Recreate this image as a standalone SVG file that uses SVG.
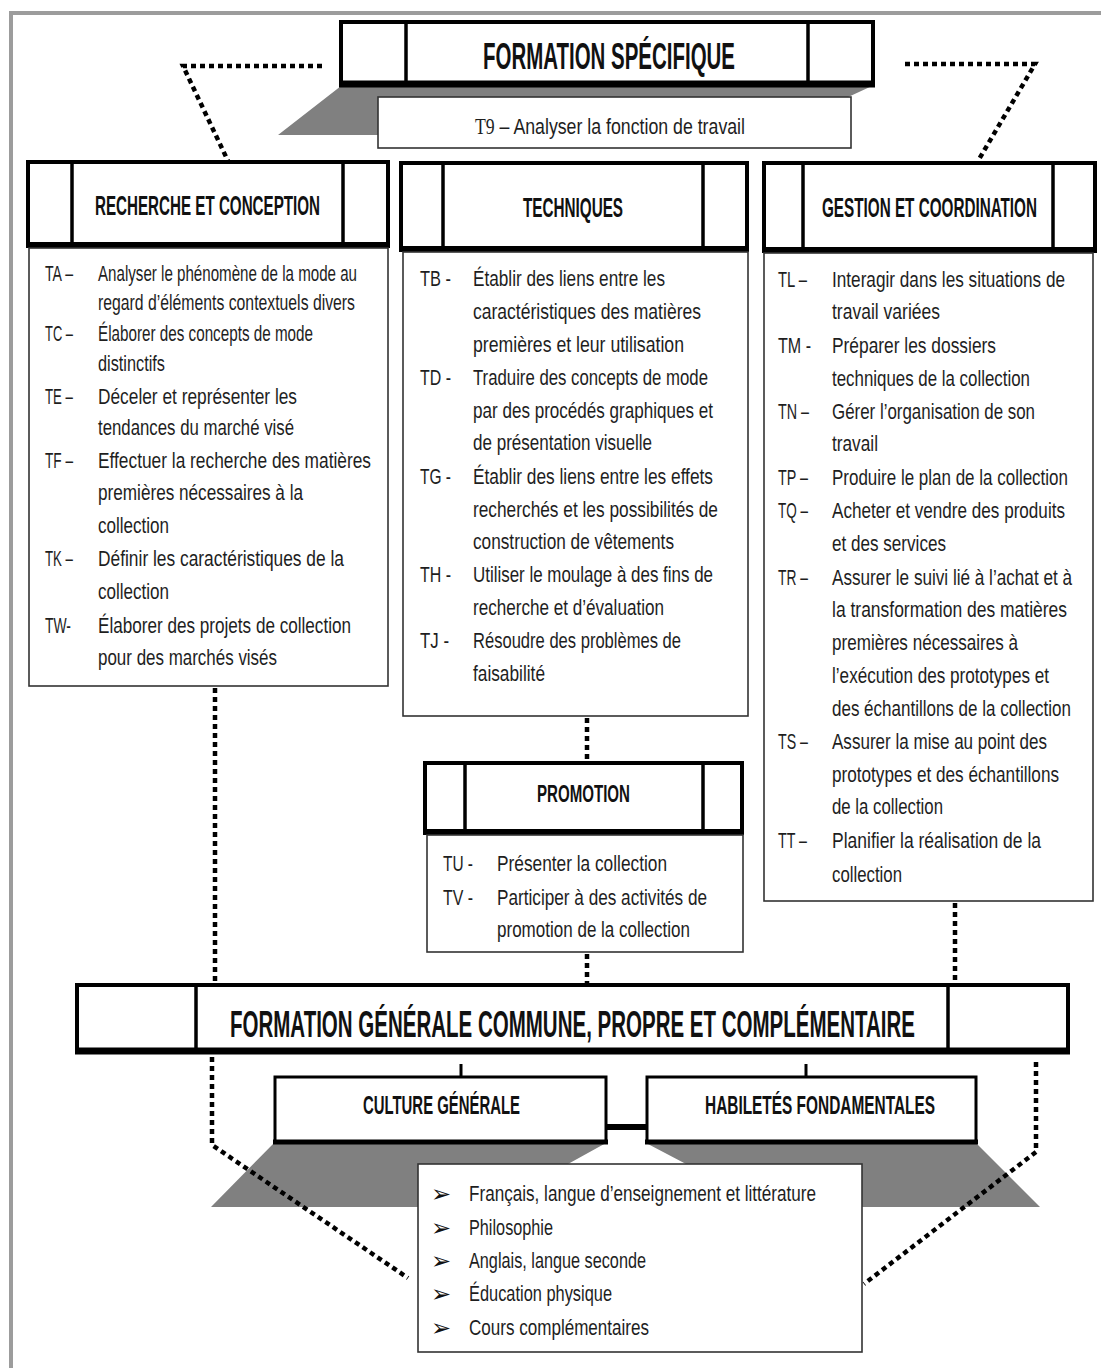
<svg xmlns="http://www.w3.org/2000/svg" width="1101" height="1371" viewBox="0 0 1101 1371">
  <style>
    .hdr { font-family: "Liberation Sans", Arial, sans-serif; font-weight: bold; fill: #111; }
    .body { font-family: "Liberation Sans", Arial, sans-serif; font-size: 17.6px; fill: #1e1e1e; }
    .list { font-family: "Liberation Sans", Arial, sans-serif; font-size: 17px; fill: #1e1e1e; }
    .bullet { font-family: "DejaVu Sans", sans-serif; font-size: 24px; fill: #111; }
    .outer { fill: #fff; stroke: #000; stroke-width: 4; }
    .rule { stroke: #000; stroke-width: 6; }
    .div { stroke: #000; stroke-width: 3.5; }
    .content { fill: #fff; stroke: #333; stroke-width: 1.6; }
    .dot { fill: none; stroke: #000; stroke-width: 4.5; stroke-dasharray: 5 4; }
    .solid { fill: none; stroke: #000; stroke-width: 3; }
    .shadow { fill: #808080; }
  </style>

  <!-- page frame -->
  <polyline points="11,1368 11,13 1101,13" fill="none" stroke="#9c9c9c" stroke-width="4"/>

  <!-- gray drop shapes -->
  <polygon class="shadow" points="341,86 872,86 846,98 846,135 278,135"/>
  <polygon class="shadow" points="274,1143 606,1143 568,1164 568,1207 211,1207"/>
  <polygon class="shadow" points="646,1143 976,1143 1040,1207 686,1207 686,1164"/>

  <!-- connectors -->
  <g id="connectors">
    <polyline class="dot" points="322,66 183,66 228,161"/>
    <polyline class="dot" points="905,64 1035,64 978,161"/>
    <line class="dot" x1="215" y1="688" x2="215" y2="984"/>
    <line class="dot" x1="587" y1="718" x2="587" y2="762"/>
    <line class="dot" x1="587" y1="954" x2="587" y2="984"/>
    <line class="dot" x1="955" y1="903" x2="955" y2="984"/>
    <polyline class="dot" points="212,1057 212,1145 408,1278"/>
    <polyline class="dot" points="1036,1062 1036,1152 864,1284"/>
    <line class="solid" x1="461" y1="1064" x2="461" y2="1077"/>
    <line class="solid" x1="806" y1="1064" x2="806" y2="1077"/>
    <line x1="605" y1="1127" x2="648" y2="1127" stroke="#000" stroke-width="6"/>
  </g>

  <!-- FORMATION SPÉCIFIQUE -->
  <g id="formation-specifique">
    <rect class="outer" x="341" y="22" width="532" height="62" stroke-width="5"/>
    <line x1="339" y1="84" x2="875" y2="84" stroke="#000" stroke-width="7"/>
    <line class="div" x1="406" y1="22" x2="406" y2="84"/>
    <line class="div" x1="808" y1="22" x2="808" y2="84"/>
    <text class="hdr" transform="translate(483 69) scale(1 1.8)" font-size="20.5" textLength="252" lengthAdjust="spacingAndGlyphs">FORMATION SPÉCIFIQUE</text>
  </g>

  <g id="t9">
    <rect class="content" x="378" y="97" width="473" height="51"/>
    <text class="body" transform="translate(475 134) scale(1 1.3)" font-size="17" textLength="270" lengthAdjust="spacingAndGlyphs"><tspan font-family="Liberation Serif, serif">T9</tspan> – Analyser la fonction de travail</text>
  </g>

  <!-- RECHERCHE ET CONCEPTION -->
  <g id="recherche-conception">
    <rect class="outer" x="28" y="162" width="360" height="83"/>
    <line class="rule" x1="26" y1="245" x2="390" y2="245"/>
    <line class="div" x1="72" y1="162" x2="72" y2="245"/>
    <line class="div" x1="343" y1="162" x2="343" y2="245"/>
    <text class="hdr" transform="translate(95 215) scale(1 1.8)" font-size="15" textLength="225" lengthAdjust="spacingAndGlyphs">RECHERCHE ET CONCEPTION</text>
    <rect class="content" x="29" y="248" width="359" height="438"/>
    <g class="body">
      <text transform="translate(45 281) scale(1 1.3)" textLength="28" lengthAdjust="spacingAndGlyphs">TA –</text>
      <text transform="translate(98 281) scale(1 1.3)" textLength="259" lengthAdjust="spacingAndGlyphs">Analyser le phénomène de la mode au</text>
      <text transform="translate(98 310) scale(1 1.3)" textLength="257" lengthAdjust="spacingAndGlyphs">regard d’éléments contextuels divers</text>
      <text transform="translate(45 341) scale(1 1.3)" textLength="28" lengthAdjust="spacingAndGlyphs">TC –</text>
      <text transform="translate(98 341) scale(1 1.3)" textLength="215" lengthAdjust="spacingAndGlyphs">Élaborer des concepts de mode</text>
      <text transform="translate(98 371) scale(1 1.3)" textLength="67" lengthAdjust="spacingAndGlyphs">distinctifs</text>
      <text transform="translate(45 404) scale(1 1.3)" textLength="28" lengthAdjust="spacingAndGlyphs">TE –</text>
      <text transform="translate(98 404) scale(1 1.3)" textLength="199" lengthAdjust="spacingAndGlyphs">Déceler et représenter les</text>
      <text transform="translate(98 435) scale(1 1.3)" textLength="196" lengthAdjust="spacingAndGlyphs">tendances du marché visé</text>
      <text transform="translate(45 468) scale(1 1.3)" textLength="28" lengthAdjust="spacingAndGlyphs">TF –</text>
      <text transform="translate(98 468) scale(1 1.3)" textLength="273" lengthAdjust="spacingAndGlyphs">Effectuer la recherche des matières</text>
      <text transform="translate(98 500) scale(1 1.3)" textLength="205" lengthAdjust="spacingAndGlyphs">premières nécessaires à la</text>
      <text transform="translate(98 533) scale(1 1.3)" textLength="71" lengthAdjust="spacingAndGlyphs">collection</text>
      <text transform="translate(45 566) scale(1 1.3)" textLength="28" lengthAdjust="spacingAndGlyphs">TK –</text>
      <text transform="translate(98 566) scale(1 1.3)" textLength="246" lengthAdjust="spacingAndGlyphs">Définir les caractéristiques de la</text>
      <text transform="translate(98 599) scale(1 1.3)" textLength="71" lengthAdjust="spacingAndGlyphs">collection</text>
      <text transform="translate(45 633) scale(1 1.3)" textLength="26" lengthAdjust="spacingAndGlyphs">TW-</text>
      <text transform="translate(98 633) scale(1 1.3)" textLength="253" lengthAdjust="spacingAndGlyphs">Élaborer des projets de collection</text>
      <text transform="translate(98 665) scale(1 1.3)" textLength="179" lengthAdjust="spacingAndGlyphs">pour des marchés visés</text>
    </g>
  </g>

  <!-- TECHNIQUES -->
  <g id="techniques">
    <rect class="outer" x="401" y="163" width="346" height="86"/>
    <line class="rule" x1="399" y1="249" x2="749" y2="249"/>
    <line class="div" x1="443" y1="163" x2="443" y2="249"/>
    <line class="div" x1="703" y1="163" x2="703" y2="249"/>
    <text class="hdr" transform="translate(523 217) scale(1 1.8)" font-size="15" textLength="100" lengthAdjust="spacingAndGlyphs">TECHNIQUES</text>
    <rect class="content" x="403" y="252" width="345" height="464"/>
    <g class="body">
      <text transform="translate(420 286) scale(1 1.3)" textLength="31" lengthAdjust="spacingAndGlyphs">TB -</text>
      <text transform="translate(473 286) scale(1 1.3)" textLength="192" lengthAdjust="spacingAndGlyphs">Établir des liens entre les</text>
      <text transform="translate(473 319) scale(1 1.3)" textLength="228" lengthAdjust="spacingAndGlyphs">caractéristiques des matières</text>
      <text transform="translate(473 352) scale(1 1.3)" textLength="211" lengthAdjust="spacingAndGlyphs">premières et leur utilisation</text>
      <text transform="translate(420 385) scale(1 1.3)" textLength="31" lengthAdjust="spacingAndGlyphs">TD -</text>
      <text transform="translate(473 385) scale(1 1.3)" textLength="235" lengthAdjust="spacingAndGlyphs">Traduire des concepts de mode</text>
      <text transform="translate(473 418) scale(1 1.3)" textLength="240" lengthAdjust="spacingAndGlyphs">par des procédés graphiques et</text>
      <text transform="translate(473 450) scale(1 1.3)" textLength="179" lengthAdjust="spacingAndGlyphs">de présentation visuelle</text>
      <text transform="translate(420 484) scale(1 1.3)" textLength="31" lengthAdjust="spacingAndGlyphs">TG -</text>
      <text transform="translate(473 484) scale(1 1.3)" textLength="240" lengthAdjust="spacingAndGlyphs">Établir des liens entre les effets</text>
      <text transform="translate(473 517) scale(1 1.3)" textLength="245" lengthAdjust="spacingAndGlyphs">recherchés et les possibilités de</text>
      <text transform="translate(473 549) scale(1 1.3)" textLength="201" lengthAdjust="spacingAndGlyphs">construction de vêtements</text>
      <text transform="translate(420 582) scale(1 1.3)" textLength="31" lengthAdjust="spacingAndGlyphs">TH -</text>
      <text transform="translate(473 582) scale(1 1.3)" textLength="240" lengthAdjust="spacingAndGlyphs">Utiliser le moulage à des fins de</text>
      <text transform="translate(473 615) scale(1 1.3)" textLength="191" lengthAdjust="spacingAndGlyphs">recherche et d’évaluation</text>
      <text transform="translate(420 648) scale(1 1.3)" textLength="29" lengthAdjust="spacingAndGlyphs">TJ -</text>
      <text transform="translate(473 648) scale(1 1.3)" textLength="208" lengthAdjust="spacingAndGlyphs">Résoudre des problèmes de</text>
      <text transform="translate(473 681) scale(1 1.3)" textLength="72" lengthAdjust="spacingAndGlyphs">faisabilité</text>
    </g>
  </g>

  <!-- GESTION ET COORDINATION -->
  <g id="gestion-coordination">
    <rect class="outer" x="764" y="163" width="331" height="87"/>
    <line class="rule" x1="762" y1="250" x2="1097" y2="250"/>
    <line class="div" x1="803" y1="163" x2="803" y2="250"/>
    <line class="div" x1="1053" y1="163" x2="1053" y2="250"/>
    <text class="hdr" transform="translate(822 217) scale(1 1.8)" font-size="15" textLength="215" lengthAdjust="spacingAndGlyphs">GESTION ET COORDINATION</text>
    <rect class="content" x="764" y="253" width="329" height="648"/>
    <g class="body">
      <text transform="translate(778 287) scale(1 1.3)" textLength="29" lengthAdjust="spacingAndGlyphs">TL –</text>
      <text transform="translate(832 287) scale(1 1.3)" textLength="233" lengthAdjust="spacingAndGlyphs">Interagir dans les situations de</text>
      <text transform="translate(832 319) scale(1 1.3)" textLength="108" lengthAdjust="spacingAndGlyphs">travail variées</text>
      <text transform="translate(778 353) scale(1 1.3)" textLength="33" lengthAdjust="spacingAndGlyphs">TM -</text>
      <text transform="translate(832 353) scale(1 1.3)" textLength="164" lengthAdjust="spacingAndGlyphs">Préparer les dossiers</text>
      <text transform="translate(832 386) scale(1 1.3)" textLength="198" lengthAdjust="spacingAndGlyphs">techniques de la collection</text>
      <text transform="translate(778 419) scale(1 1.3)" textLength="31" lengthAdjust="spacingAndGlyphs">TN –</text>
      <text transform="translate(832 419) scale(1 1.3)" textLength="203" lengthAdjust="spacingAndGlyphs">Gérer l’organisation de son</text>
      <text transform="translate(832 451) scale(1 1.3)" textLength="46" lengthAdjust="spacingAndGlyphs">travail</text>
      <text transform="translate(778 485) scale(1 1.3)" textLength="30" lengthAdjust="spacingAndGlyphs">TP –</text>
      <text transform="translate(832 485) scale(1 1.3)" textLength="236" lengthAdjust="spacingAndGlyphs">Produire le plan de la collection</text>
      <text transform="translate(778 518) scale(1 1.3)" textLength="30" lengthAdjust="spacingAndGlyphs">TQ –</text>
      <text transform="translate(832 518) scale(1 1.3)" textLength="233" lengthAdjust="spacingAndGlyphs">Acheter et vendre des produits</text>
      <text transform="translate(832 551) scale(1 1.3)" textLength="114" lengthAdjust="spacingAndGlyphs">et des services</text>
      <text transform="translate(778 585) scale(1 1.3)" textLength="30" lengthAdjust="spacingAndGlyphs">TR –</text>
      <text transform="translate(832 585) scale(1 1.3)" textLength="240" lengthAdjust="spacingAndGlyphs">Assurer le suivi lié à l’achat et à</text>
      <text transform="translate(832 617) scale(1 1.3)" textLength="235" lengthAdjust="spacingAndGlyphs">la transformation des matières</text>
      <text transform="translate(832 650) scale(1 1.3)" textLength="186" lengthAdjust="spacingAndGlyphs">premières nécessaires à</text>
      <text transform="translate(832 683) scale(1 1.3)" textLength="217" lengthAdjust="spacingAndGlyphs">l’exécution des prototypes et</text>
      <text transform="translate(832 716) scale(1 1.3)" textLength="239" lengthAdjust="spacingAndGlyphs">des échantillons de la collection</text>
      <text transform="translate(778 749) scale(1 1.3)" textLength="30" lengthAdjust="spacingAndGlyphs">TS –</text>
      <text transform="translate(832 749) scale(1 1.3)" textLength="215" lengthAdjust="spacingAndGlyphs">Assurer la mise au point des</text>
      <text transform="translate(832 782) scale(1 1.3)" textLength="227" lengthAdjust="spacingAndGlyphs">prototypes et des échantillons</text>
      <text transform="translate(832 814) scale(1 1.3)" textLength="111" lengthAdjust="spacingAndGlyphs">de la collection</text>
      <text transform="translate(778 848) scale(1 1.3)" textLength="29" lengthAdjust="spacingAndGlyphs">TT –</text>
      <text transform="translate(832 848) scale(1 1.3)" textLength="209" lengthAdjust="spacingAndGlyphs">Planifier la réalisation de la</text>
      <text transform="translate(832 882) scale(1 1.3)" textLength="70" lengthAdjust="spacingAndGlyphs">collection</text>
    </g>
  </g>

  <!-- PROMOTION -->
  <g id="promotion">
    <rect class="outer" x="425" y="763" width="317" height="69"/>
    <line class="rule" x1="423" y1="832" x2="744" y2="832"/>
    <line class="div" x1="465" y1="763" x2="465" y2="832"/>
    <line class="div" x1="703" y1="763" x2="703" y2="832"/>
    <text class="hdr" transform="translate(537 802) scale(1 1.8)" font-size="13.3" textLength="93" lengthAdjust="spacingAndGlyphs">PROMOTION</text>
    <rect class="content" x="427" y="835" width="316" height="117"/>
    <g class="body">
      <text transform="translate(443 871) scale(1 1.3)" textLength="30" lengthAdjust="spacingAndGlyphs">TU -</text>
      <text transform="translate(497 871) scale(1 1.3)" textLength="170" lengthAdjust="spacingAndGlyphs">Présenter la collection</text>
      <text transform="translate(443 905) scale(1 1.3)" textLength="30" lengthAdjust="spacingAndGlyphs">TV -</text>
      <text transform="translate(497 905) scale(1 1.3)" textLength="210" lengthAdjust="spacingAndGlyphs">Participer à des activités de</text>
      <text transform="translate(497 937) scale(1 1.3)" textLength="193" lengthAdjust="spacingAndGlyphs">promotion de la collection</text>
    </g>
  </g>

  <!-- FORMATION GÉNÉRALE -->
  <g id="formation-generale">
    <rect class="outer" x="77" y="985" width="991" height="66" stroke-width="5"/>
    <line x1="75" y1="1051" x2="1070" y2="1051" stroke="#000" stroke-width="7"/>
    <line class="div" x1="196" y1="985" x2="196" y2="1051"/>
    <line class="div" x1="948" y1="985" x2="948" y2="1051"/>
    <text class="hdr" transform="translate(230 1037) scale(1 1.8)" font-size="21" textLength="685" lengthAdjust="spacingAndGlyphs">FORMATION GÉNÉRALE COMMUNE, PROPRE ET COMPLÉMENTAIRE</text>
  </g>

  <g id="culture-generale">
    <rect x="275" y="1077" width="331" height="65" fill="#fff" stroke="#000" stroke-width="3"/>
    <line x1="273" y1="1142" x2="608" y2="1142" stroke="#000" stroke-width="5"/>
    <text class="hdr" transform="translate(363 1114) scale(1 1.8)" font-size="14.4" textLength="157" lengthAdjust="spacingAndGlyphs">CULTURE GÉNÉRALE</text>
  </g>

  <g id="habiletes-fondamentales">
    <rect x="647" y="1077" width="329" height="65" fill="#fff" stroke="#000" stroke-width="3"/>
    <line x1="645" y1="1142" x2="978" y2="1142" stroke="#000" stroke-width="5"/>
    <text class="hdr" transform="translate(705 1114) scale(1 1.8)" font-size="14.4" textLength="230" lengthAdjust="spacingAndGlyphs">HABILETÉS FONDAMENTALES</text>
  </g>

  <g id="cours">
    <rect class="content" x="418" y="1164" width="444" height="188"/>
    <g class="bullet">
      <text x="431" y="1202">➢</text>
      <text x="431" y="1236">➢</text>
      <text x="431" y="1269">➢</text>
      <text x="431" y="1302">➢</text>
      <text x="431" y="1336">➢</text>
    </g>
    <g class="list">
      <text transform="translate(469 1201) scale(1 1.3)" textLength="347" lengthAdjust="spacingAndGlyphs">Français, langue d’enseignement et littérature</text>
      <text transform="translate(469 1235) scale(1 1.3)" textLength="84" lengthAdjust="spacingAndGlyphs">Philosophie</text>
      <text transform="translate(469 1268) scale(1 1.3)" textLength="177" lengthAdjust="spacingAndGlyphs">Anglais, langue seconde</text>
      <text transform="translate(469 1301) scale(1 1.3)" textLength="143" lengthAdjust="spacingAndGlyphs">Éducation physique</text>
      <text transform="translate(469 1335) scale(1 1.3)" textLength="180" lengthAdjust="spacingAndGlyphs">Cours complémentaires</text>
    </g>
  </g>
</svg>
